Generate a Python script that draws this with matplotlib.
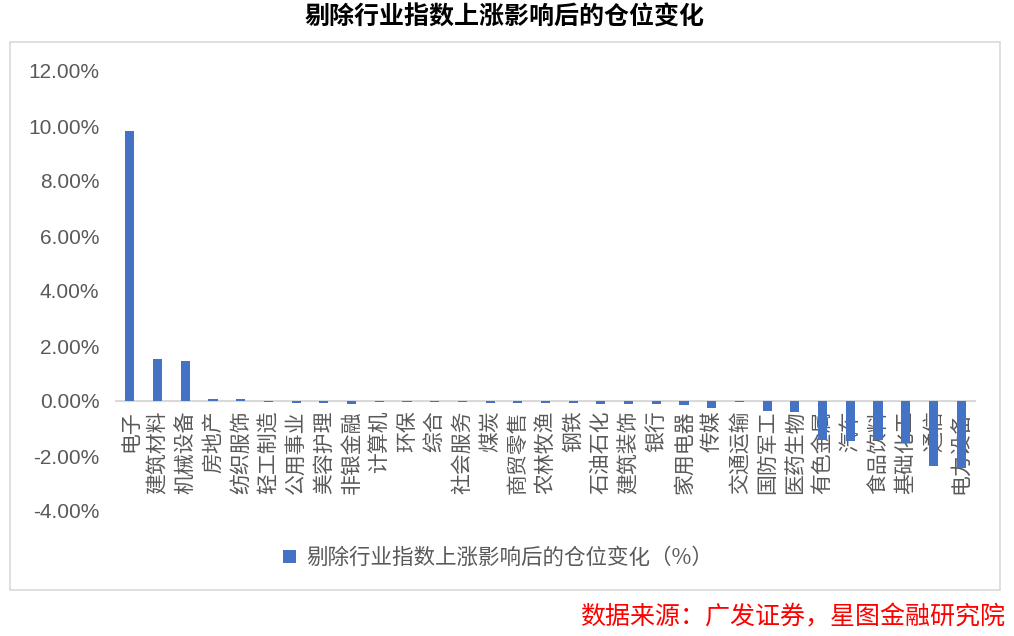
import numpy as np
import matplotlib
matplotlib.use("Agg")
import matplotlib.pyplot as plt
from matplotlib.patches import Rectangle, Patch
from matplotlib.ticker import FuncFormatter

plt.rcParams['font.family'] = ['Noto Sans CJK SC', 'DejaVu Sans']

industries = ["电子", "建筑材料", "机械设备", "房地产", "纺织服饰", "轻工制造", "公用事业",
              "美容护理", "非银金融", "计算机", "环保", "综合", "社会服务", "煤炭", "商贸零售",
              "农林牧渔", "钢铁", "石油石化", "建筑装饰", "银行", "家用电器", "传媒", "交通运输",
              "国防军工", "医药生物", "有色金属", "汽车", "食品饮料", "基础化工", "通信", "电力设备"]
change_pct = [9.82, 1.53, 1.45, 0.09, 0.09, -0.03, -0.07,
              -0.07, -0.12, -0.04, -0.04, -0.03, -0.03, -0.07, -0.07,
              -0.09, -0.09, -0.12, -0.12, -0.12, -0.15, -0.25, -0.02,
              -0.38, -0.40, -1.42, -1.45, -1.42, -1.53, -2.38, -2.42]

title = "剔除行业指数上涨影响后的仓位变化"
legend_label = "剔除行业指数上涨影响后的仓位变化（%）"
source = "数据来源：广发证券，星图金融研究院"

bar_color = "#4472C4"
grey = "#595959"

fig = plt.figure(figsize=(10.14, 6.36), dpi=100)
ax = fig.add_axes([116 / 1014, 1 - 511 / 636, 859 / 1014, 440 / 636])

x = np.arange(len(industries))
ax.bar(x, change_pct, width=0.33, color=bar_color, label=legend_label, zorder=3)

# zero line as the category axis (do this before styling tick labels)
for s in ["top", "right", "left"]:
    ax.spines[s].set_visible(False)
ax.spines["bottom"].set_position(("data", 0))
ax.spines["bottom"].set_color("#d9d9d9")
ax.spines["bottom"].set_linewidth(1.5)
ax.spines["bottom"].set_zorder(2)

ax.set_xlim(-0.5, len(industries) - 0.5)
ax.set_ylim(-4, 12)
ax.set_yticks(np.arange(-4, 13, 2))
ax.yaxis.set_major_formatter(FuncFormatter(lambda v, p: f"{v:.2f}%"))
ax.tick_params(axis="y", length=0, pad=12, labelsize=15, labelcolor=grey)
for lab in ax.get_yticklabels():
    lab.set_family(['Liberation Sans', 'DejaVu Sans'])

ax.tick_params(axis="x", length=0, pad=7, labelrotation=90, labelsize=15, labelcolor=grey)
ax.set_xticks(x)
ax.set_xticklabels(industries, rotation=90, fontsize=15, color=grey, va="top", ha="center")

# chart frame
fig.patches.append(Rectangle((10 / 1014, 1 - 590 / 636), 990 / 1014, 548 / 636,
                             transform=fig.transFigure, fill=False,
                             edgecolor="#d9d9d9", linewidth=1.2))

fig.text(505 / 1014, 1 - 18 / 636, title, ha="center", va="center",
         fontsize=18, fontweight="bold", color="black")

handles = [Patch(facecolor=bar_color, label=legend_label)]
fig.legend(handles=handles, loc="center", bbox_to_anchor=(498 / 1014, 1 - 558 / 636),
           frameon=False, fontsize=15.5, labelcolor=grey,
           handlelength=0.6, handleheight=0.6, handletextpad=0.5)

fig.text(1005 / 1014, 1 - 617 / 636, source, ha="right", va="center",
         fontsize=18, color="red", style="italic")

fig.savefig("out.png", dpi=100)
